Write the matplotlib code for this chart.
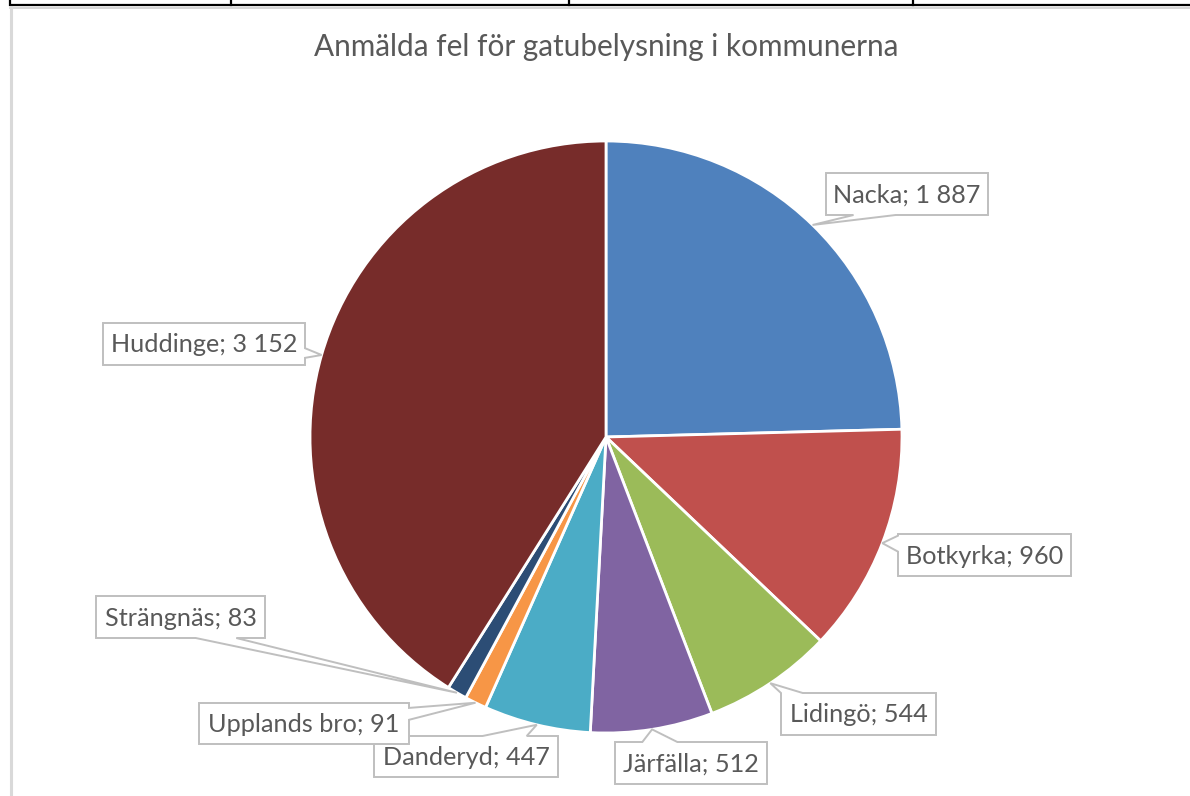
import matplotlib
matplotlib.use("Agg")
import matplotlib.pyplot as plt
from matplotlib.patches import Polygon
import numpy as np

# ---- data ----
categories = ["Nacka", "Botkyrka", "Lidingö", "Järfälla", "Danderyd",
              "Upplands bro", "Strängnäs", "Huddinge"]
values = [1887, 960, 544, 512, 447, 91, 83, 3152]
value_labels = ["1 887", "960", "544", "512", "447", "91", "83", "3 152"]
colors = ["#4F81BD", "#C0504D", "#9BBB59", "#8064A2", "#4BACC6",
          "#F79646", "#2C4D75", "#772C2A"]
title = "Anmälda fel för gatubelysning i kommunerna"

# ---- layout (pixel coordinates, y down) ----
W, H = 1190, 796
center_px = (606, 437)
radius_px = 296
# label boxes: (x0, y0, x1, y1), tail side, tail base fractions
boxes = {
    "Nacka": ((826, 173, 988, 215), "bottom", 0.17, 0.43),
    "Botkyrka": ((898, 534, 1071, 576), "left", 0.04, 0.42),
    "Lidingö": ((781, 693, 936, 735), "top", 0.0, 0.14),
    "Järfälla": ((615, 742, 767, 784), "top", 0.18, 0.41),
    "Danderyd": ((374, 736, 558, 777), "top", 0.59, 0.83),
    "Upplands bro": ((199, 703, 409, 744), "right", 0.12, 0.41),
    "Strängnäs": ((96, 596, 265, 638), "bottom", 0.59, 0.83),
    "Huddinge": ((103, 323, 305, 365), "right", 0.6, 0.83),
}
draw_order = ["Nacka", "Botkyrka", "Lidingö", "Järfälla", "Danderyd",
              "Strängnäs", "Upplands bro", "Huddinge"]

FONT = ["Lato", "DejaVu Sans"]
TXT = "#595959"
EDGE = "#BFBFBF"

fig = plt.figure(figsize=(W / 100, H / 100), dpi=100)
ax = fig.add_axes([0, 0, 1, 1])


def Y(py):
    return H - py


wedges, _ = ax.pie(values, colors=colors, startangle=90, counterclock=False,
                   center=(center_px[0], Y(center_px[1])), radius=radius_px,
                   wedgeprops=dict(edgecolor="white", linewidth=2.0))
ax.set_xlim(0, W)
ax.set_ylim(0, H)
ax.set_aspect("equal")
ax.axis("off")

# anchors from wedge mid-angles
anchors = {}
for name, w in zip(categories, wedges):
    mid = np.deg2rad((w.theta1 + w.theta2) / 2)
    ax_x = center_px[0] + radius_px * np.cos(mid)
    ax_y = center_px[1] - radius_px * np.sin(mid)
    anchors[name] = (ax_x, ax_y)

renderer = fig.canvas.get_renderer()

# label font size fitted to the box widths
label_texts = {c: f"{c}; {v}" for c, v in zip(categories, value_labels)}
ratios = []
for c in categories:
    t = ax.text(0, 0, label_texts[c], fontsize=20, family=FONT)
    bb = t.get_window_extent(renderer)
    (x0, y0, x1, y1), *_ = boxes[c]
    ratios.append((x1 - x0 - 17) / bb.width)
    t.remove()
lab_fs = 20 * float(np.median(ratios))

for c in draw_order:
    (x0, y0, x1, y1), side, f0, f1 = boxes[c]
    w_, h_ = x1 - x0, y1 - y0
    a = anchors[c]
    pts = []
    tl, tr, br, bl = (x0, y0), (x1, y0), (x1, y1), (x0, y1)
    pts.append(tl)
    if side == "top":
        pts += [(x0 + f0 * w_, y0), a, (x0 + f1 * w_, y0)]
    pts.append(tr)
    if side == "right":
        pts += [(x1, y0 + f0 * h_), a, (x1, y0 + f1 * h_)]
    pts.append(br)
    if side == "bottom":
        pts += [(x0 + f1 * w_, y1), a, (x0 + f0 * w_, y1)]
    pts.append(bl)
    if side == "left":
        pts += [(x0, y0 + f1 * h_), a, (x0, y0 + f0 * h_)]
    poly = Polygon([(p[0], Y(p[1])) for p in pts], closed=True,
                   facecolor="white", edgecolor=EDGE, linewidth=1.4,
                   zorder=5, joinstyle="miter")
    ax.add_patch(poly)
    ax.text((x0 + x1) / 2, Y((y0 + y1) / 2 + 1), label_texts[c],
            fontsize=lab_fs, family=FONT, color=TXT, ha="center",
            va="center", zorder=6)

# title fitted to width
tt = ax.text(606, Y(47), title, fontsize=20, family=FONT, color=TXT,
             ha="center", va="center")
bb = tt.get_window_extent(renderer)
tt.set_fontsize(20 * 586 / bb.width)

# spreadsheet frame bits at top / left
ax.plot([10, W], [Y(5), Y(5)], color="black", lw=1.6, solid_capstyle="butt")
ax.plot([10, W], [Y(7.5), Y(7.5)], color="#D0D0D0", lw=1.2)
for vx in [10, 231, 569, 913]:
    ax.plot([vx, vx], [Y(0), Y(5)], color="black", lw=1.6)
ax.plot([10.5, 10.5], [Y(7), Y(H)], color="#D9D9D9", lw=2.2)

fig.savefig("out.png", dpi=100)
